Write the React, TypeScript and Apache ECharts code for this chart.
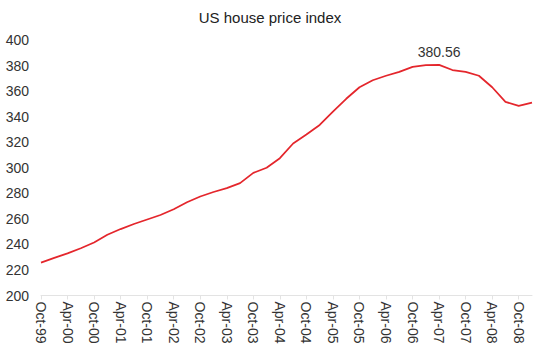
import React, { useEffect, useRef } from "react";
import * as echarts from "echarts";

const categories: string[] = [
  "Oct-99", "Jan-00", "Apr-00", "Jul-00", "Oct-00", "Jan-01", "Apr-01", "Jul-01",
  "Oct-01", "Jan-02", "Apr-02", "Jul-02", "Oct-02", "Jan-03", "Apr-03", "Jul-03",
  "Oct-03", "Jan-04", "Apr-04", "Jul-04", "Oct-04", "Jan-05", "Apr-05", "Jul-05",
  "Oct-05", "Jan-06", "Apr-06", "Jul-06", "Oct-06", "Jan-07", "Apr-07", "Jul-07",
  "Oct-07", "Jan-08", "Apr-08", "Jul-08", "Oct-08", "Jan-09",
];

const hpiValues: number[] = [
  225.7, 229.5, 233.0, 237.0, 241.5, 247.5, 252.0, 256.0,
  259.5, 263.0, 267.5, 273.0, 277.5, 281.0, 284.0, 288.0,
  296.0, 300.0, 307.5, 319.0, 326.0, 333.5, 344.0, 354.0,
  363.0, 368.5, 372.0, 375.0, 379.0, 380.3, 380.56, 376.5,
  375.0, 372.0, 363.0, 351.5, 348.5, 351.0,
];

const peakLabelIndex = 30;

const yMin = 200;
const yMax = 400;
const yStep = 20;

const titleText = "US house price index";

export default function App() {
  const ref = useRef<HTMLDivElement>(null);

  useEffect(() => {
    if (!ref.current) return;
    const chart = echarts.init(ref.current, undefined, { renderer: "svg" });
    const font = "'Liberation Sans', Arial, sans-serif";
    const seriesData = hpiValues.map((v, i) =>
      i === peakLabelIndex
        ? {
            value: v,
            label: {
              show: true,
              position: "top",
              distance: 6,
              formatter: () => v.toFixed(2),
              color: "#333333",
              fontSize: 14,
              fontFamily: font,
            },
          }
        : v
    );
    chart.setOption({
      animation: false,
      backgroundColor: "#ffffff",
      title: {
        text: titleText,
        left: "center",
        top: 5,
        textStyle: {
          fontSize: 15,
          fontWeight: "normal",
          color: "#222222",
          fontFamily: font,
        },
      },
      grid: {
        left: 41,
        right: 8,
        top: 40,
        bottom: 55.5,
        containLabel: false,
      },
      xAxis: {
        type: "category",
        data: categories,
        boundaryGap: false,
        axisLine: { show: true, lineStyle: { color: "#e3e3e3", width: 1 } },
        axisTick: {
          show: true,
          interval: 1,
          length: 4,
          lineStyle: { color: "#e3e3e3" },
        },
        axisLabel: {
          interval: 1,
          rotate: -90,
          margin: 6,
          color: "#333333",
          fontSize: 14,
          fontFamily: font,
        },
        splitLine: { show: false },
      },
      yAxis: {
        type: "value",
        min: yMin,
        max: yMax,
        interval: yStep,
        axisLine: { show: false },
        axisTick: { show: false },
        splitLine: { show: false },
        axisLabel: {
          margin: 12,
          color: "#333333",
          fontSize: 14,
          fontFamily: font,
        },
      },
      series: [
        {
          type: "line",
          data: seriesData,
          showSymbol: true,
          symbol: "circle",
          symbolSize: 0,
          smooth: false,
          lineStyle: { color: "#e4262c", width: 1.75 },
          itemStyle: { color: "#e4262c" },
          label: { show: false },
        },
      ],
    });
    return () => chart.dispose();
  }, []);

  return (
    <div
      ref={ref}
      style={{ position: "fixed", left: 0, top: 0, width: 540, height: 351 }}
    />
  );
}
